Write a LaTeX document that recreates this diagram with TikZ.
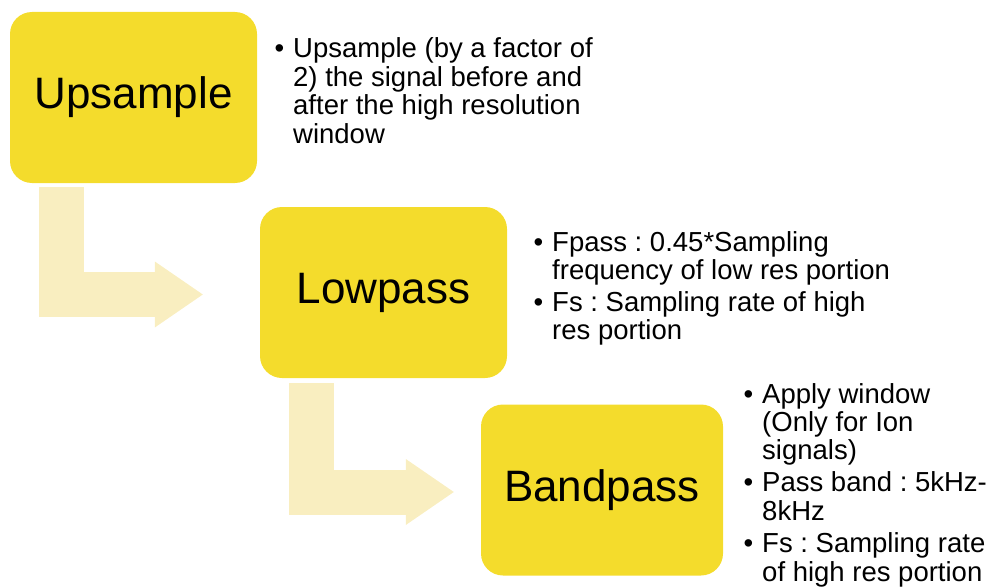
\documentclass[tikz,border=0pt]{standalone}
\usepackage{fontspec}
\setmainfont{Liberation Sans}
\usetikzlibrary{arrows.meta, calc}
\definecolor{stagefill}{HTML}{F4DC2C}
\definecolor{bendfill}{HTML}{F9EEC0}
\tikzset{
  stage/.style    ={fill=stagefill, rounded corners=22pt, inner sep=0pt,
                    minimum width=247pt, minimum height=171pt,
                    font=\fontsize{44}{48}\selectfont},
  notes/.style    ={anchor=base west, inner sep=0pt,
                    font=\fontsize{27.5}{28.4}\selectfont},
  bendarrow/.style={draw=bendfill, line width=45pt,
                    -{Triangle[length=48pt,width=66pt,line width=0pt]}}
}
\newcommand{\bul}{\llap{\textbullet\hspace{9pt}}}
\frenchspacing

\begin{document}
\begin{tikzpicture}[x=1pt, y=-1pt]
  \useasboundingbox (0,0) rectangle (990,586);

  % stages
  \node[stage] (up)   at (133.5,97.5) {Upsample};
  \node[stage] (low)  at (383.5,292.5) {Lowpass};
  \node[stage, minimum width=242pt] (band) at (602,490) {Bandpass};

  % bent arrows between stages
  \draw[bendarrow] ($(up.south west)+(51.5,4)$) |- ($(low.west)+(-57,2)$);
  \draw[bendarrow] ($(low.south west)+(52,5)$) |- ($(band.west)+(-27,2)$);

  % notes
  \node[notes] (upnotes) at (293,58) {\begin{tabular}[t]{@{}l@{}}
    \bul Upsample (by a factor of\\
    2) the signal before and\\
    after the high resolution\\
    window\end{tabular}};
  \node[notes] (lownotes) at (552,251) {\begin{tabular}[t]{@{}l@{}}
    \bul Fpass : 0.45*Sampling\\
    frequency of low res portion\\[3.4pt]
    \bul Fs : Sampling rate of high\\
    res portion\end{tabular}};
  \node[notes] (bandnotes) at (762,403) {\begin{tabular}[t]{@{}l@{}}
    \bul Apply window\\
    (Only for Ion\\
    signals)\\[3.4pt]
    \bul Pass band : 5kHz-\\
    8kHz\\[4pt]
    \bul Fs : Sampling rate\\
    of high res portion\end{tabular}};
\end{tikzpicture}
\end{document}
